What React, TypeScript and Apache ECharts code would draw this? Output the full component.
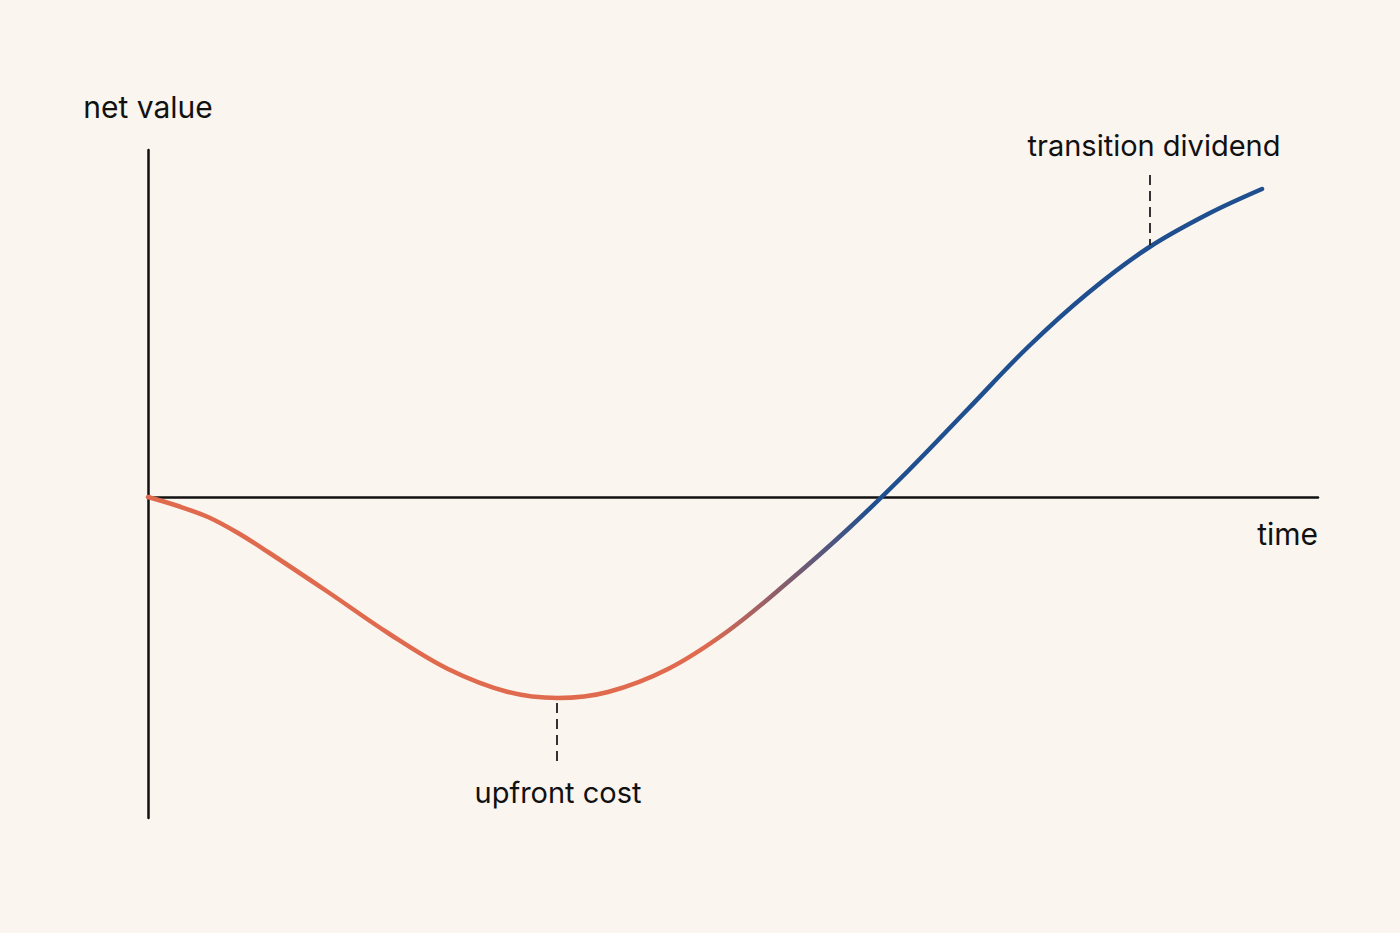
import React, { useEffect, useRef } from "react";
import * as echarts from "echarts";

const timeValues = [0, 3, 6, 9, 12, 18, 24, 30, 36, 41, 46, 52, 58, 64, 70, 76, 82, 88, 94, 100, 106, 111.4];
const netValues = [0, -0.09, -0.2, -0.36, -0.55, -0.95, -1.36, -1.72, -1.95, -2.01, -1.95, -1.72, -1.34, -0.85, -0.32, 0.26, 0.88, 1.5, 2.04, 2.49, 2.83, 3.08];

const annotationLabels = ["upfront cost", "transition dividend"];
const annotationTime = [40.9, 100.2];
const annotationLineFrom = [-2.06, 3.22];
const annotationLineTo = [-2.68, 2.52];
const annotationLabelTime = [41.0, 100.6];
const annotationLabelValue = [-2.95, 3.52];

const X_MIN = 0;
const X_MAX = 117;
const Y_MIN = -3.21;
const Y_MAX = 3.47;

const FONT = "Inter, 'Noto Sans', sans-serif";
const FONT_SIZE = 29;
const INK = "#111111";
const ORANGE = "#E06A4E";
const BLUE = "#1F4F8F";

export default function App() {
  const ref = useRef<HTMLDivElement>(null);

  useEffect(() => {
    if (!ref.current) return;
    document.body.style.margin = "0";
    document.body.style.background = "#FAF5EE";
    const chart = echarts.init(ref.current, null, { renderer: "svg" });

    const lineData = timeValues.map((t, i) => [t, netValues[i]]);

    chart.setOption({
      animation: false,
      backgroundColor: "#FAF5EE",
      grid: { left: 148, right: 82, top: 150, bottom: 115, containLabel: false },
      xAxis: {
        type: "value",
        min: X_MIN,
        max: X_MAX,
        name: "time",
        nameLocation: "end",
        nameGap: 0,
        nameTextStyle: {
          color: INK,
          fontSize: 30,
          fontFamily: FONT,
          align: "right",
          verticalAlign: "top",
          padding: [22, 0, 0, 0],
        },
        axisLine: { show: true, onZero: true, lineStyle: { color: INK, width: 2.5 } },
        axisTick: { show: false },
        axisLabel: { show: false },
        splitLine: { show: false },
      },
      yAxis: {
        type: "value",
        min: Y_MIN,
        max: Y_MAX,
        name: "net value",
        nameLocation: "end",
        nameGap: 28,
        nameTextStyle: {
          color: INK,
          fontSize: 30,
          fontFamily: FONT,
          align: "center",
          verticalAlign: "bottom",
        },
        axisLine: { show: true, onZero: false, lineStyle: { color: INK, width: 2.5 } },
        axisTick: { show: false },
        axisLabel: { show: false },
        splitLine: { show: false },
      },
      series: [
        {
          type: "line",
          data: lineData,
          smooth: 0.35,
          symbol: "none",
          lineStyle: {
            width: 4.5,
            cap: "round",
            color: new echarts.graphic.LinearGradient(0, 0, 1, 0, [
              { offset: 0, color: ORANGE },
              { offset: 0.5, color: ORANGE },
              { offset: 0.65, color: BLUE },
              { offset: 1, color: BLUE },
            ]),
          },
          markLine: {
            silent: true,
            symbol: ["none", "none"],
            label: { show: false },
            lineStyle: { color: INK, width: 1.7, type: [10, 6] },
            data: annotationTime.map((t, i) => [
              { coord: [t, annotationLineFrom[i]] },
              { coord: [t, annotationLineTo[i]] },
            ]),
          },
          z: 3,
        },
        {
          type: "scatter",
          clip: false,
          silent: true,
          symbolSize: 0,
          itemStyle: { color: INK, opacity: 1 },
          data: annotationLabels.map((name, i) => [annotationLabelTime[i], annotationLabelValue[i], name]),
          label: {
            show: true,
            position: "inside",
            formatter: (p: any) => p.data[2],
            color: INK,
            opacity: 1,
            textBorderWidth: 0,
            fontSize: FONT_SIZE,
            fontFamily: FONT,
          },
        },
      ],
    });

    return () => chart.dispose();
  }, []);

  return (
    <div
      ref={ref}
      style={{ position: "fixed", left: 0, top: 0, width: 1400, height: 933 }}
    />
  );
}
